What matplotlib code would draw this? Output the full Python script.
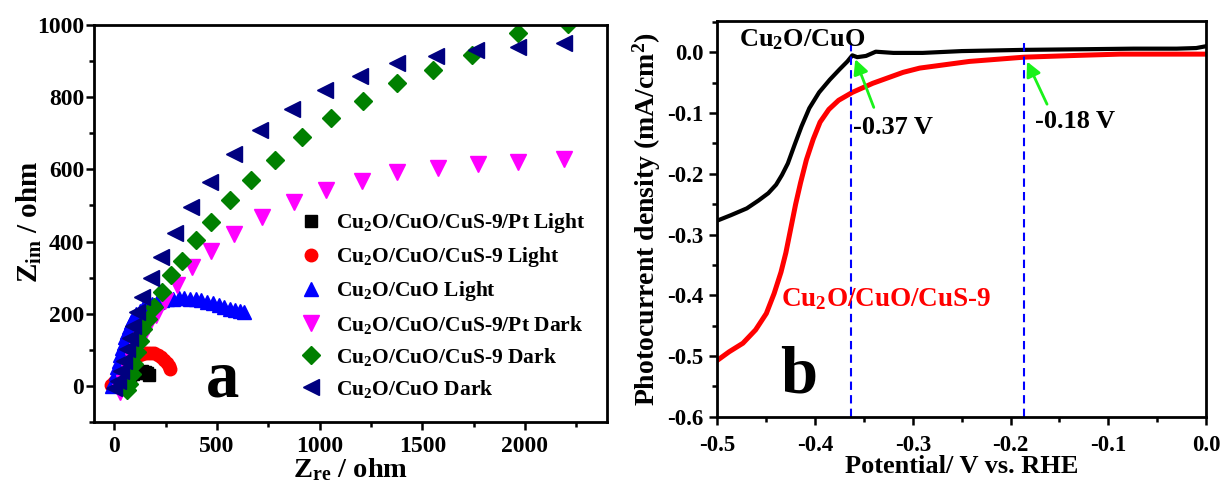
import numpy as np
import matplotlib
matplotlib.use("Agg")
import matplotlib.pyplot as plt
from matplotlib.ticker import MultipleLocator, FormatStrFormatter

plt.rcParams['font.family'] = 'Liberation Serif'
plt.rcParams['font.weight'] = 'bold'
plt.rcParams['axes.labelweight'] = 'bold'
plt.rcParams['mathtext.fontset'] = 'custom'
plt.rcParams['mathtext.rm'] = 'Liberation Serif:bold'
plt.rcParams['mathtext.it'] = 'Liberation Serif:bold'
plt.rcParams['mathtext.bf'] = 'Liberation Serif:bold'
plt.rcParams['mathtext.default'] = 'rm'
plt.rcParams['axes.unicode_minus'] = False

# --- panel a: Nyquist plots (Zre, Zim in ohm) ---
pt_light_x = [15, 30, 45, 60, 75, 90, 105, 120, 135, 150, 160, 168]
pt_light_y = [0, 8, 15, 21, 27, 32, 36, 39, 40, 38, 35, 31]

cus_light_x = [-15, 0, 15, 30, 45, 60, 75, 90, 105, 120, 135, 150, 165, 180, 195, 212, 228, 242, 254, 264, 271]
cus_light_y = [2, 12, 25, 38, 50, 60, 69, 76, 82, 86, 89, 91, 92, 92, 90, 86, 80, 72, 63, 54, 46]

cuo_light_x = [-10, -3, 5, 13, 21, 29, 37, 45, 53, 61, 70, 80, 92, 106, 122, 140, 160, 182, 206, 232,
               258, 285, 312, 340, 368, 396, 424, 452, 480, 508, 535, 562, 588, 612, 632]
cuo_light_y = [0, 17, 35, 52, 70, 87, 104, 120, 136, 150, 163, 176, 188, 199, 208, 216, 222, 228, 233, 237,
               240, 242, 243, 243, 242, 240, 237, 233, 229, 224, 219, 214, 210, 207, 205]

pt_dark_x = [25, 48, 70, 90, 110, 130, 165, 201, 245, 307, 380, 469, 583, 721, 874, 1031, 1205, 1379, 1577, 1770, 1968, 2192]
pt_dark_y = [-18, 8, 38, 68, 98, 128, 165, 196, 236, 281, 329, 375, 421, 467, 509, 542, 569, 593, 603, 615, 621, 630]

cus_dark_x = [60, 71, 83, 96, 109, 125, 141, 161, 193, 230, 274, 331, 396, 469, 562, 666, 780, 912, 1054, 1209, 1375, 1552, 1740, 1965, 2208]
cus_dark_y = [-10, 5, 32, 60, 93, 125, 157, 185, 219, 259, 306, 347, 403, 454, 516, 571, 627, 690, 741, 790, 838, 875, 917, 977, 1002]

cuo_dark_x = [0, 15, 31, 47, 63, 76, 92, 111, 136, 177, 226, 295, 372, 467, 581, 709, 865, 1025, 1196, 1375, 1566, 1761, 1964, 2191]
cuo_dark_y = [-5, 14, 42, 69, 102, 134, 167, 204, 245, 299, 356, 424, 495, 565, 642, 708, 766, 821, 858, 894, 913, 931, 940, 949]

# --- panel b: LSV curves ---
cuo_E = [-0.500, -0.486, -0.470, -0.458, -0.448, -0.440, -0.434, -0.428, -0.421, -0.414, -0.406, -0.396,
         -0.385, -0.375, -0.367, -0.362, -0.357, -0.348, -0.338, -0.320, -0.290, -0.250, -0.186, -0.128,
         -0.074, -0.030, -0.010, 0.000]
cuo_J = [-0.277, -0.268, -0.257, -0.244, -0.232, -0.218, -0.202, -0.183, -0.152, -0.122, -0.092, -0.066,
         -0.045, -0.028, -0.015, -0.005, -0.008, -0.006, 0.001, -0.001, -0.001, 0.002, 0.004, 0.005,
         0.006, 0.006, 0.007, 0.010]

cus_E = [-0.500, -0.488, -0.474, -0.461, -0.450, -0.442, -0.435, -0.430, -0.425, -0.420, -0.415, -0.409,
         -0.402, -0.395, -0.386, -0.376, -0.362, -0.341, -0.310, -0.293, -0.242, -0.186, -0.130, -0.088,
         -0.040, 0.000]
cus_J = [-0.507, -0.493, -0.479, -0.457, -0.430, -0.397, -0.362, -0.330, -0.290, -0.250, -0.215, -0.177,
         -0.143, -0.115, -0.094, -0.079, -0.066, -0.051, -0.033, -0.026, -0.015, -0.008, -0.005, -0.003,
         -0.003, -0.003]

onset = [-0.363, -0.186]
onset_labels = ['-0.37 V', '-0.18 V']

fig = plt.figure(figsize=(12.25, 4.84), dpi=100)
ax1 = fig.add_axes([0.0767, 0.1281, 0.4188, 0.8202])
ax2 = fig.add_axes([0.5857, 0.139, 0.3988, 0.8182])

for ax in (ax1, ax2):
    for s in ax.spines.values():
        s.set_linewidth(2.0)
    ax.tick_params(which='major', direction='out', length=6, width=1.8, top=False, right=False)
    ax.tick_params(which='minor', direction='out', length=3.5, width=1.8, top=False, right=False)

# panel a
ax1.plot(pt_light_x, pt_light_y, 's', color='black', ms=8, label='Cu$_2$O/CuO/CuS-9/Pt Light')
ax1.plot(cus_light_x, cus_light_y, 'o', color='red', ms=9, label='Cu$_2$O/CuO/CuS-9 Light')
ax1.plot(cuo_light_x, cuo_light_y, '^', color='blue', ms=10, label='Cu$_2$O/CuO Light')
ax1.plot(pt_dark_x, pt_dark_y, 'v', color='magenta', ms=11, label='Cu$_2$O/CuO/CuS-9/Pt Dark')
ax1.plot(cus_dark_x, cus_dark_y, 'D', color='green', ms=9, label='Cu$_2$O/CuO/CuS-9 Dark')
ax1.plot(cuo_dark_x, cuo_dark_y, '<', color='navy', ms=11, label='Cu$_2$O/CuO Dark')

ax1.set_xlim(-100, 2400)
ax1.set_ylim(-100, 1000)
ax1.xaxis.set_major_locator(MultipleLocator(500))
ax1.xaxis.set_minor_locator(MultipleLocator(250))
ax1.yaxis.set_major_locator(MultipleLocator(200))
ax1.yaxis.set_minor_locator(MultipleLocator(100))
ax1.tick_params(axis='both', labelsize=17)
ax1.tick_params(axis='x', pad=4)
ax1.tick_params(axis='y', pad=1)
ax1.set_xlabel('Z$_{re}$ / ohm', fontsize=20.5, va='baseline')
ax1.xaxis.set_label_coords(0.5, -0.138)
ax1.set_ylabel('Z$_{im}$ / ohm', fontsize=21, va='center')
ax1.yaxis.set_label_coords(-0.125, 0.504)
ax1.text(528, -28, 'a', fontsize=48, ha='center', va='baseline')
ax1.legend(loc='upper left', bbox_to_anchor=(0.403, 0.531), frameon=False, fontsize=15.5,
           borderpad=0, borderaxespad=0, handlelength=1.0, handletextpad=0.65, labelspacing=0.47)

# panel b
ax2.plot(cuo_E, cuo_J, color='black', lw=3)
ax2.plot(cus_E, cus_J, color='red', lw=3.6)
for e in onset:
    ax2.plot([e, e], [-0.6, 0.015], color='blue', lw=1.5, dashes=[4, 2.5])

ax2.set_xlim(-0.5, 0.0)
ax2.set_ylim(-0.6, 0.052)
ax2.xaxis.set_major_locator(MultipleLocator(0.1))
ax2.xaxis.set_minor_locator(MultipleLocator(0.05))
ax2.yaxis.set_major_locator(MultipleLocator(0.1))
ax2.yaxis.set_minor_locator(MultipleLocator(0.05))
ax2.xaxis.set_major_formatter(FormatStrFormatter('%.1f'))
ax2.yaxis.set_major_formatter(FormatStrFormatter('%.1f'))
ax2.tick_params(axis='both', labelsize=16.5)
ax2.tick_params(axis='x', pad=7)
ax2.tick_params(axis='y', pad=4)
ax2.set_xlabel('Potential/ V vs. RHE', fontsize=19, va='baseline')
ax2.xaxis.set_label_coords(0.5, -0.142)
ax2.set_ylabel('Photocurrent density (mA/cm$^2$)', fontsize=20, va='center')
ax2.yaxis.set_label_coords(-0.144, 0.5)

for ax in (ax1, ax2):
    for lab in ax.get_xticklabels() + ax.get_yticklabels():
        lab.set_fontweight('bold')

ax2.text(-0.4777, 0.009, 'Cu$_2$O/CuO', fontsize=19, color='black', va='baseline')
ax2.text(-0.435, -0.418, 'Cu$_2$O/CuO/CuS-9', fontsize=19.5, color='red', va='baseline')
ax2.text(-0.3615, -0.1346, onset_labels[0], fontsize=19, va='baseline')
ax2.text(-0.1752, -0.125, onset_labels[1], fontsize=19, va='baseline')
ax2.text(-0.417, -0.56, 'b', fontsize=48, ha='center', va='baseline')

green = (0.1, 0.95, 0.1)
ax2.annotate('', xy=(-0.360, -0.007), xytext=(-0.339, -0.095),
             arrowprops=dict(arrowstyle='-|>', color=green, lw=2, mutation_scale=22))
ax2.annotate('', xy=(-0.1844, -0.0110), xytext=(-0.1615, -0.0896),
             arrowprops=dict(arrowstyle='-|>', color=green, lw=2, mutation_scale=22))

fig.savefig('out.png', dpi=100)
